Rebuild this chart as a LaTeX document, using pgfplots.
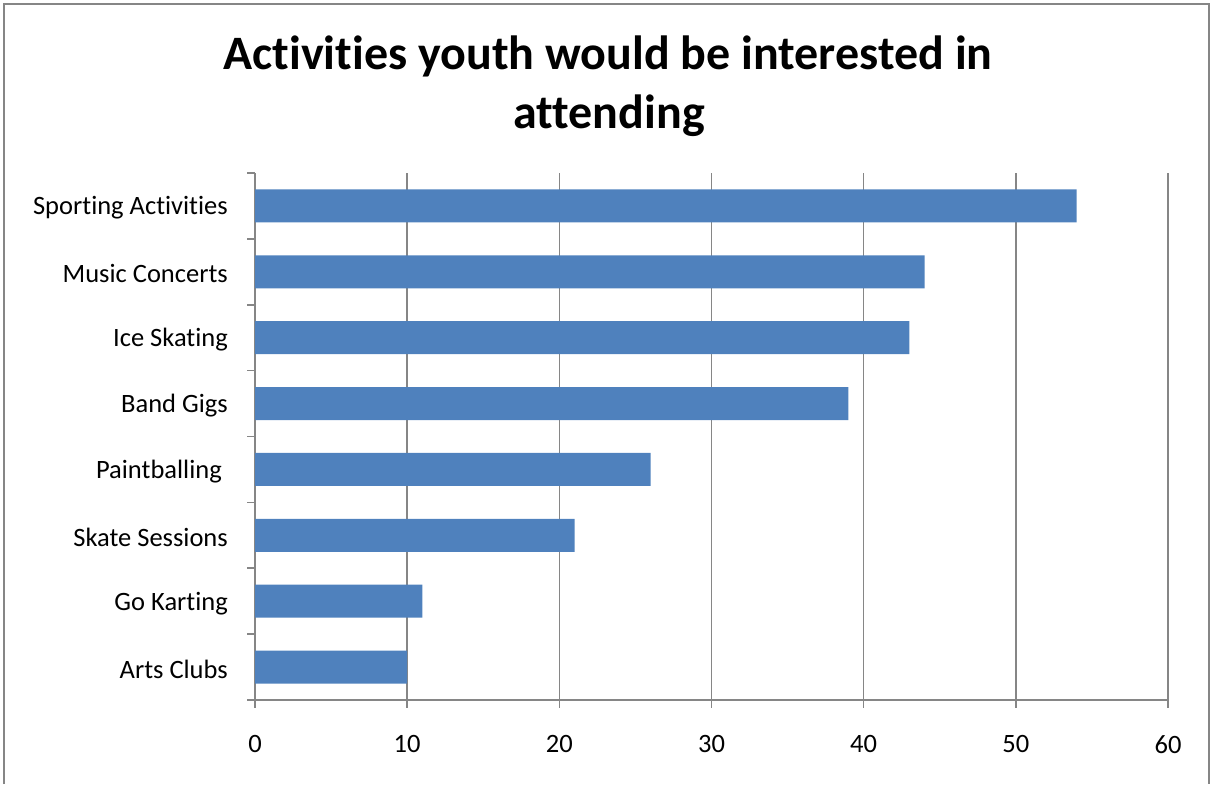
\documentclass[border=0pt]{standalone}
\usepackage{pgfplots}
\pgfplotsset{compat=1.18}
\usepackage{fontspec}
\setmainfont{Carlito}[Ligatures={NoCommon}]
\definecolor{barblue}{HTML}{4F81BD}
\definecolor{axgray}{HTML}{868686}
\begin{document}
\begin{tikzpicture}
\useasboundingbox (0pt,0pt) rectangle (1212pt,784pt);
\draw[axgray,line width=2.5pt] (4pt,0pt) -- (4pt,780pt) -- (1209pt,780pt) -- (1209pt,0pt);
\node[anchor=base,font=\fontsize{48pt}{54pt}\selectfont\bfseries] at (608pt,714pt) {Activities youth would be interested in};
\node[anchor=base,font=\fontsize{48pt}{54pt}\selectfont\bfseries] at (609pt,655pt) {attending};
\begin{axis}[
  at={(255pt,84pt)}, anchor=south west,
  scale only axis, width=913pt, height=527pt,
  xbar, bar width=33pt,
  xmin=0, xmax=60, ymin=0.5, ymax=8.5,
  xtick={0,10,...,60},
  ytick={1,...,8},
  yticklabels={Arts Clubs,Go Karting,Skate Sessions,Paintballing\rule{6pt}{0pt},Band Gigs,Ice Skating,Music Concerts,Sporting Activities},
  minor ytick={0.5,1.5,...,8.5},
  axis x line*=bottom, axis y line*=left,
  axis line style={axgray,line width=1.5pt},
  tick align=outside,
  major tick length=8pt, minor tick length=8pt,
  major y tick style={draw=none},
  minor y tick style={axgray,line width=1.5pt},
  major x tick style={axgray,line width=1.5pt},
  xmajorgrids, major grid style={axgray,line width=1.5pt},
  ticklabel style={font=\fontsize{26.5pt}{30pt}\selectfont},
  /pgf/number format/assume math mode=true,
  yticklabel style={inner sep=0pt, xshift=-19pt, yshift=-2pt},
  xticklabel style={inner sep=0pt, yshift=-27pt},
  clip=false,
]
\addplot[fill=barblue, draw=none] coordinates {
(10,1) (11,2) (21,3) (26,4) (39,5) (43,6) (44,7) (54,8)
};
\end{axis}
\end{tikzpicture}
\end{document}
